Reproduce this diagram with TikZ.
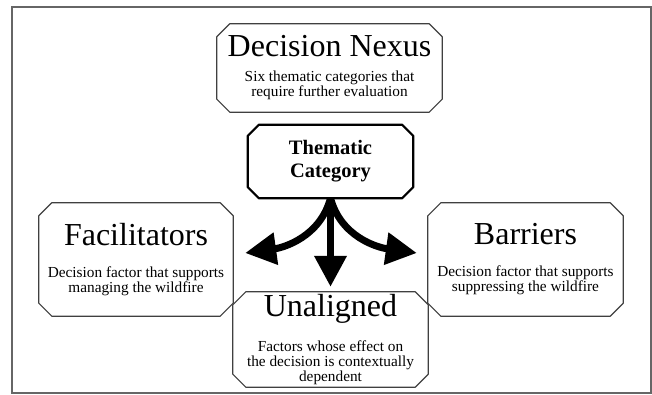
\documentclass[tikz,border=0pt]{standalone}
\usepackage{fontspec}
\setmainfont{Liberation Serif}
\usetikzlibrary{arrows.meta}

\newcommand{\boxtitle}[1]{{\fontsize{32}{32}\selectfont #1}}
% octagon outline round a named node, corners cut by #2
\newcommand{\cutframe}[3][]{%
  \draw[#1] ([xshift=#3]#2.north west) -- ([xshift=-#3]#2.north east)
    -- ([yshift=-#3]#2.north east) -- ([yshift=#3]#2.south east)
    -- ([xshift=-#3]#2.south east) -- ([xshift=#3]#2.south west)
    -- ([yshift=#3]#2.south west) -- ([yshift=-#3]#2.north west) -- cycle;}

\begin{document}
\begin{tikzpicture}[x=1pt, y=1pt,
  box/.style={inner sep=0pt, align=center, font=\fontsize{15.3}{15}\selectfont},
  edge/.style={draw=black!75, line width=1.2pt, line join=round},
  fork/.style={line width=7pt, -{Triangle[length=31pt, width=31pt]}}]
  \useasboundingbox (0,0) rectangle (652,395);
  \draw[black!60, line width=1.5pt] (12,2) rectangle (651,388);
  % boxes
  \node[box, minimum width=225pt, minimum height=88pt] (nexus) at (329.5,327)
    {\boxtitle{Decision Nexus}\\[10pt]Six thematic categories that\\require further evaluation};
  \node[box, minimum width=165pt, minimum height=73pt,
    font=\bfseries\fontsize{20.5}{23}\selectfont] (tc) at (330.5,233.5) {Thematic\\Category};
  \node[box, minimum width=194pt, minimum height=113pt] (fac) at (136,135.5)
    {\boxtitle{Facilitators}\\[17pt]Decision factor that supports\\managing the wildfire};
  \node[box, minimum width=195pt, minimum height=113pt] (bar) at (525.5,135.5)
    {\boxtitle{Barriers}\\[17pt]Decision factor that supports\\suppressing the wildfire};
  \node[box, minimum width=195pt, minimum height=95pt] (una) at (330.5,55.5)
    {\boxtitle{Unaligned}\\[17pt]Factors whose effect on\\the decision is contextually\\dependent};
  \foreach \n in {nexus,fac,bar,una}
    \cutframe[edge]{\n}{13pt};
  \cutframe[edge, draw=black, line width=2.2pt]{tc}{11pt}
  % arrows
  \draw[fork] (tc.south) to[out=-105, in=8] ([shift={(12pt,6.5pt)}]fac.east);
  \draw[fork] (tc.south) -- ([yshift=5pt]una.north);
  \draw[fork] (tc.south) to[out=-75, in=172] ([shift={(-11pt,6.5pt)}]bar.west);
\end{tikzpicture}
\end{document}
